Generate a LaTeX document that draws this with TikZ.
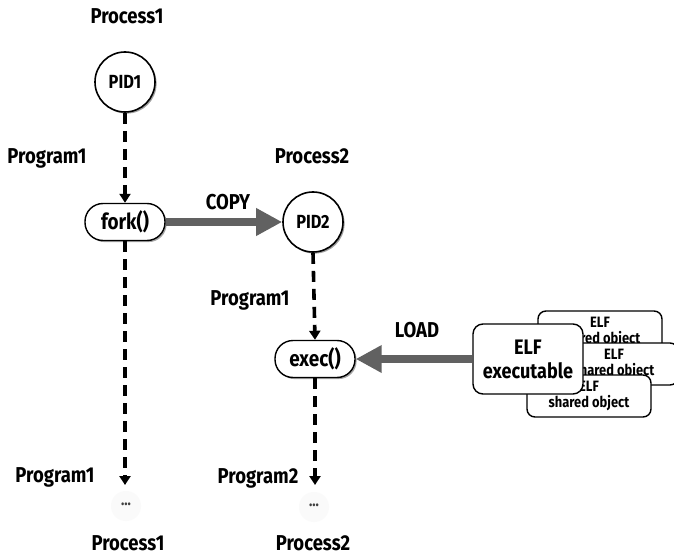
\documentclass[tikz,border=0pt]{standalone}
\usepackage{fontspec}
\setmainfont{Fira Sans}[FakeStretch=0.86]
\usetikzlibrary{arrows.meta,shadows}
\begin{document}
\begin{tikzpicture}[x=1pt,y=-1pt,
  font=\bfseries,
  lbl/.style={font=\fontsize{21.5}{23}\selectfont\bfseries,inner sep=1pt},
  proc/.style={circle,draw,line width=1.6pt,fill=white,minimum size=60pt,inner sep=0pt,
    font=\fontsize{19}{21}\selectfont\bfseries,
    drop shadow={shadow xshift=1.6pt,shadow yshift=-1.6pt,fill=black!75}},
  call/.style={rectangle,draw,line width=1.4pt,fill=white,rounded corners=18pt,
    minimum width=80pt,minimum height=37pt,inner sep=0pt,
    font=\fontsize{22}{24}\selectfont\bfseries,
    drop shadow={shadow xshift=1.6pt,shadow yshift=-1.6pt,fill=black!70}},
  elfbox/.style={rectangle,draw,line width=1.4pt,fill=white,rounded corners=8pt,
    minimum width=124pt,minimum height=42pt,inner sep=1pt,align=center,
    font=\fontsize{15}{16}\selectfont\bfseries},
  flow/.style={line width=3.6pt,dash pattern=on 11pt off 7pt,
    -{Triangle[length=9pt,width=11pt]}},
  bigarrow/.style={line width=8pt,black!62,-{Triangle[length=26pt,width=26pt]}},
  dots/.style={font=\fontsize{16}{16}\selectfont\bfseries,text=black!75},
  haze/.style={circle,fill=black!2,minimum size=30pt,inner sep=0pt}
]
\clip (0,0) rectangle (674,556);
\fill[white] (0,0) rectangle (674,556);

% parent process column
\node[lbl] (p1top) at (127,16) {Process1};
\node[proc] (pid1) at (125,82) {PID1};
\node[lbl] (prog1a) at (47,158) {Program1};
\node[call] (fork) at (125,222) {fork()};
\node[lbl] (prog1c) at (55,477) {Program1};
\node[haze] (h1) at (126,506) {};
\node[dots] (dots1) at (126,504) {...};
\node[lbl] (p1bot) at (128,543) {Process1};
\coordinate (end1) at (125,485);

% child process column
\node[lbl] (p2top) at (312,156) {Process2};
\node[proc] (pid2) at (313,222) {PID2};
\node[lbl] (prog1b) at (250,300) {Program1};
\node[call] (exec) at (315,359) {exec()};
\node[lbl] (prog2) at (258,478) {Program2};
\node[haze] (h2) at (314,507) {};
\node[dots] (dots2) at (314,505) {...};
\node[lbl] (p2bot) at (313,543) {Process2};
\coordinate (end2) at (315,485);

% ELF images to be loaded
\node[elfbox] (so1) at (600,332) {ELF\\shared object};
\node[elfbox,minimum width=128pt] (so2) at (614,364) {ELF\\shared object};
\node[elfbox] (so3) at (589,396) {ELF\\shared object};
\node[elfbox,minimum width=110pt,minimum height=70pt,rounded corners=10pt,
  font=\fontsize{21}{24}\selectfont\bfseries] (elf) at (528,359) {ELF\\executable};

% control flow
\draw[flow] (pid1.south) -- (fork.north);
\draw[flow] (fork.south) -- (end1);
\draw[flow] (pid2.south) -- (exec.north);
\draw[flow] (exec.south) -- (end2);

% copy and load
\draw[bigarrow] (fork.east) -- (pid2.west);
\node[lbl] (copy) at (228,202) {COPY};
\draw[bigarrow] (elf.west) -- (exec.east);
\node[lbl] (load) at (417,330) {LOAD};
\end{tikzpicture}
\end{document}
